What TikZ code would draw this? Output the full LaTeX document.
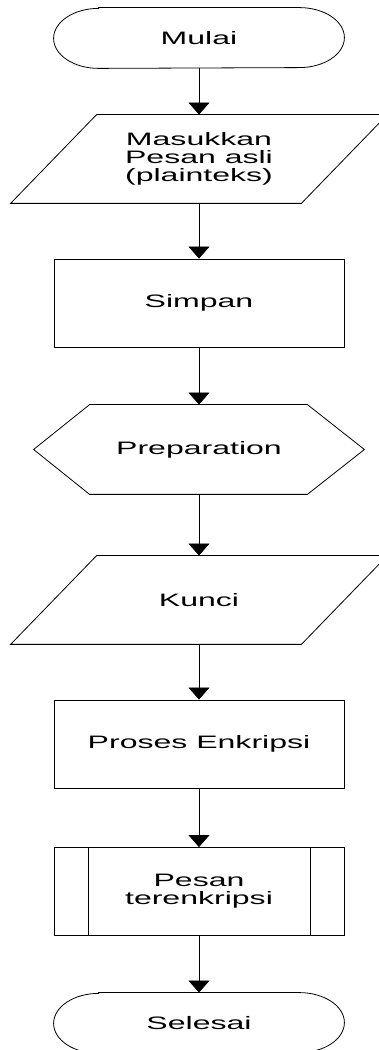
\documentclass[tikz,border=0pt]{standalone}
\usepackage{fontspec}
\setmainfont{Liberation Sans}[FakeStretch=1.78]
\usetikzlibrary{arrows.meta}

\begin{document}
\begin{tikzpicture}[x=1pt,y=1pt,
  line width=0.8pt,
  box/.style={minimum width=290pt, minimum height=88pt, inner sep=0pt,
    align=center, font=\fontsize{18}{17.7}\selectfont},
  procbox/.style={box, draw},
  termbox/.style={box, minimum height=60pt},
  prepbox/.style={box, minimum width=330pt, minimum height=89pt},
  flow/.style={-{Triangle[width=21pt,length=12pt]}}
]
\useasboundingbox (0,0) rectangle (379,1050);

% nodes (text holders; outlines drawn below)
\node[termbox] (mulai)   at (199,1012)  {Mulai};
\node[box]     (masuk)   at (199,891)   {Masukkan\\Pesan asli\\(plainteks)};
\node[procbox] (simpan)  at (199,747)   {Simpan};
\node[prepbox] (prep)    at (199,600.5) {Preparation};
\node[box]     (kunci)   at (199,450)   {Kunci};
\node[procbox] (proses)  at (199,306)   {Proses Enkripsi};
\node[procbox] (pesan)   at (199,158.5) {Pesan\\terenkripsi};
\node[termbox] (selesai) at (199,27)    {Selesai};

% terminators with elliptical ends
\foreach \t in {mulai,selesai}{
  \draw ([xshift=45pt]\t.north west) -- ([xshift=-45pt]\t.north east)
    arc[start angle=90, end angle=-90, x radius=45pt, y radius=30pt]
    -- ([xshift=45pt]\t.south west)
    arc[start angle=270, end angle=90, x radius=45pt, y radius=30pt] -- cycle;
}

% input/output parallelograms
\foreach \t in {masuk,kunci}{
  \draw ([xshift=43pt]\t.north west) -- ([xshift=43pt]\t.north east)
    -- ([xshift=-43pt]\t.south east) -- ([xshift=-43pt]\t.south west) -- cycle;
}

% preparation hexagon
\draw ([xshift=56pt]prep.north west) -- ([xshift=-57pt]prep.north east)
  -- (prep.east) -- ([xshift=-57pt]prep.south east)
  -- ([xshift=56pt]prep.south west) -- (prep.west) -- cycle;

% predefined process side bars
\draw ([xshift=35pt]pesan.north west) -- ([xshift=35pt]pesan.south west);
\draw ([xshift=-34pt]pesan.north east) -- ([xshift=-34pt]pesan.south east);

% connectors
\draw[flow] (mulai.south)  -- (masuk.north);
\draw[flow] (masuk.south)  -- (simpan.north);
\draw[flow] (simpan.south) -- (prep.north);
\draw[flow] (prep.south)   -- (kunci.north);
\draw[flow] (kunci.south)  -- (proses.north);
\draw[flow] (proses.south) -- (pesan.north);
\draw[flow] (pesan.south)  -- (selesai.north);
\end{tikzpicture}
\end{document}
